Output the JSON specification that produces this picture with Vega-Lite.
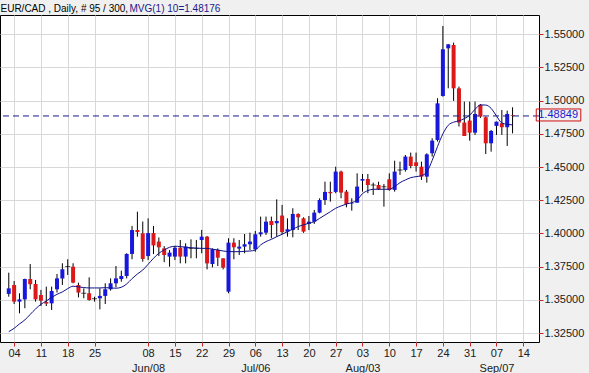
{
  "$schema": "https://vega.github.io/schema/vega-lite/v6.json",
  "width": 539,
  "height": 327,
  "autosize": {"type": "none"},
  "padding": {"left": 0, "top": 15, "right": 50, "bottom": 31},
  "background": "#f0f0f0",
  "config": {
    "view": {"fill": "white", "stroke": "black", "strokeWidth": 1},
    "font": "Liberation Sans"
  },
  "data": {
    "values": [
      {"i": -1, "o": 1.3545, "h": 1.3705, "l": 1.3524, "c": 1.3587, "ma": 1.3261},
      {"i": 0, "o": 1.3612, "h": 1.3642, "l": 1.3469, "c": 1.3487, "ma": 1.3286},
      {"i": 1, "o": 1.3487, "h": 1.3550, "l": 1.3399, "c": 1.3504, "ma": 1.3319},
      {"i": 2, "o": 1.3504, "h": 1.3660, "l": 1.3437, "c": 1.3657, "ma": 1.3349},
      {"i": 3, "o": 1.3657, "h": 1.3770, "l": 1.3580, "c": 1.3617, "ma": 1.3391},
      {"i": 4, "o": 1.3620, "h": 1.3650, "l": 1.3487, "c": 1.3504, "ma": 1.3432},
      {"i": 5, "o": 1.3537, "h": 1.3575, "l": 1.3454, "c": 1.3494, "ma": 1.3467},
      {"i": 6, "o": 1.3484, "h": 1.3600, "l": 1.3454, "c": 1.3472, "ma": 1.3492},
      {"i": 7, "o": 1.3474, "h": 1.3600, "l": 1.3424, "c": 1.3567, "ma": 1.3519},
      {"i": 8, "o": 1.3580, "h": 1.3695, "l": 1.3555, "c": 1.3662, "ma": 1.3542},
      {"i": 9, "o": 1.3662, "h": 1.3776, "l": 1.3612, "c": 1.3730, "ma": 1.3560},
      {"i": 10, "o": 1.3751, "h": 1.3806, "l": 1.3688, "c": 1.3751, "ma": 1.3585},
      {"i": 11, "o": 1.3750, "h": 1.3776, "l": 1.3625, "c": 1.3630, "ma": 1.3603},
      {"i": 12, "o": 1.3612, "h": 1.3630, "l": 1.3519, "c": 1.3555, "ma": 1.3598},
      {"i": 13, "o": 1.3550, "h": 1.3587, "l": 1.3512, "c": 1.3550, "ma": 1.3593},
      {"i": 14, "o": 1.3550, "h": 1.3670, "l": 1.3494, "c": 1.3499, "ma": 1.3590},
      {"i": 15, "o": 1.3509, "h": 1.3524, "l": 1.3487, "c": 1.3509, "ma": 1.3590},
      {"i": 16, "o": 1.3512, "h": 1.3587, "l": 1.3429, "c": 1.3530, "ma": 1.3590},
      {"i": 17, "o": 1.3530, "h": 1.3625, "l": 1.3469, "c": 1.3580, "ma": 1.3592},
      {"i": 18, "o": 1.3580, "h": 1.3662, "l": 1.3570, "c": 1.3625, "ma": 1.3590},
      {"i": 19, "o": 1.3625, "h": 1.3755, "l": 1.3595, "c": 1.3662, "ma": 1.3588},
      {"i": 20, "o": 1.3657, "h": 1.3720, "l": 1.3637, "c": 1.3680, "ma": 1.3595},
      {"i": 21, "o": 1.3680, "h": 1.3851, "l": 1.3662, "c": 1.3846, "ma": 1.3620},
      {"i": 22, "o": 1.3846, "h": 1.4057, "l": 1.3806, "c": 1.4026, "ma": 1.3660},
      {"i": 23, "o": 1.4026, "h": 1.4164, "l": 1.3976, "c": 1.4011, "ma": 1.3695},
      {"i": 24, "o": 1.4001, "h": 1.4090, "l": 1.3788, "c": 1.3808, "ma": 1.3725},
      {"i": 25, "o": 1.3830, "h": 1.4114, "l": 1.3800, "c": 1.4003, "ma": 1.3768},
      {"i": 26, "o": 1.4003, "h": 1.4057, "l": 1.3845, "c": 1.3910, "ma": 1.3813},
      {"i": 27, "o": 1.3939, "h": 1.3970, "l": 1.3830, "c": 1.3896, "ma": 1.3851},
      {"i": 28, "o": 1.3888, "h": 1.3905, "l": 1.3784, "c": 1.3838, "ma": 1.3876},
      {"i": 29, "o": 1.3826, "h": 1.3876, "l": 1.3750, "c": 1.3856, "ma": 1.3896},
      {"i": 30, "o": 1.3826, "h": 1.3906, "l": 1.3800, "c": 1.3893, "ma": 1.3904},
      {"i": 31, "o": 1.3893, "h": 1.3951, "l": 1.3775, "c": 1.3826, "ma": 1.3901},
      {"i": 32, "o": 1.3826, "h": 1.3926, "l": 1.3775, "c": 1.3901, "ma": 1.3897},
      {"i": 33, "o": 1.3888, "h": 1.3956, "l": 1.3813, "c": 1.3888, "ma": 1.3893},
      {"i": 34, "o": 1.3888, "h": 1.3951, "l": 1.3813, "c": 1.3888, "ma": 1.3890},
      {"i": 35, "o": 1.3951, "h": 1.4027, "l": 1.3851, "c": 1.3976, "ma": 1.3888},
      {"i": 36, "o": 1.3976, "h": 1.3981, "l": 1.3730, "c": 1.3775, "ma": 1.3888},
      {"i": 37, "o": 1.3770, "h": 1.3888, "l": 1.3745, "c": 1.3881, "ma": 1.3882},
      {"i": 38, "o": 1.3876, "h": 1.3888, "l": 1.3755, "c": 1.3818, "ma": 1.3876},
      {"i": 39, "o": 1.3813, "h": 1.3813, "l": 1.3730, "c": 1.3743, "ma": 1.3868},
      {"i": 40, "o": 1.3562, "h": 1.3964, "l": 1.3550, "c": 1.3931, "ma": 1.3864},
      {"i": 41, "o": 1.3931, "h": 1.3964, "l": 1.3806, "c": 1.3896, "ma": 1.3863},
      {"i": 42, "o": 1.3886, "h": 1.3951, "l": 1.3838, "c": 1.3901, "ma": 1.3863},
      {"i": 43, "o": 1.3901, "h": 1.3996, "l": 1.3851, "c": 1.3919, "ma": 1.3866},
      {"i": 44, "o": 1.3919, "h": 1.4006, "l": 1.3876, "c": 1.3939, "ma": 1.3868},
      {"i": 45, "o": 1.3881, "h": 1.4019, "l": 1.3863, "c": 1.3994, "ma": 1.3876},
      {"i": 46, "o": 1.3994, "h": 1.4127, "l": 1.3976, "c": 1.4009, "ma": 1.3914},
      {"i": 47, "o": 1.4006, "h": 1.4127, "l": 1.3989, "c": 1.4089, "ma": 1.3939},
      {"i": 48, "o": 1.4094, "h": 1.4127, "l": 1.3964, "c": 1.4064, "ma": 1.3956},
      {"i": 49, "o": 1.4077, "h": 1.4257, "l": 1.3976, "c": 1.4094, "ma": 1.3976},
      {"i": 50, "o": 1.4135, "h": 1.4215, "l": 1.3995, "c": 1.4010, "ma": 1.3994},
      {"i": 51, "o": 1.4014, "h": 1.4114, "l": 1.3976, "c": 1.4032, "ma": 1.4014},
      {"i": 52, "o": 1.4026, "h": 1.4190, "l": 1.3971, "c": 1.4147, "ma": 1.4033},
      {"i": 53, "o": 1.4147, "h": 1.4152, "l": 1.4026, "c": 1.4122, "ma": 1.4052},
      {"i": 54, "o": 1.4114, "h": 1.4122, "l": 1.4005, "c": 1.4014, "ma": 1.4065},
      {"i": 55, "o": 1.4072, "h": 1.4132, "l": 1.4026, "c": 1.4089, "ma": 1.4077},
      {"i": 56, "o": 1.4089, "h": 1.4177, "l": 1.4072, "c": 1.4157, "ma": 1.4089},
      {"i": 57, "o": 1.4157, "h": 1.4265, "l": 1.4152, "c": 1.4252, "ma": 1.4114},
      {"i": 58, "o": 1.4252, "h": 1.4390, "l": 1.4215, "c": 1.4313, "ma": 1.4139},
      {"i": 59, "o": 1.4313, "h": 1.4390, "l": 1.4240, "c": 1.4303, "ma": 1.4164},
      {"i": 60, "o": 1.4313, "h": 1.4503, "l": 1.4303, "c": 1.4466, "ma": 1.4190},
      {"i": 61, "o": 1.4466, "h": 1.4473, "l": 1.4265, "c": 1.4308, "ma": 1.4207},
      {"i": 62, "o": 1.4315, "h": 1.4328, "l": 1.4197, "c": 1.4222, "ma": 1.4222},
      {"i": 63, "o": 1.4225, "h": 1.4265, "l": 1.4172, "c": 1.4228, "ma": 1.4232},
      {"i": 64, "o": 1.4232, "h": 1.4453, "l": 1.4232, "c": 1.4353, "ma": 1.4252},
      {"i": 65, "o": 1.4398, "h": 1.4448, "l": 1.4315, "c": 1.4410, "ma": 1.4300},
      {"i": 66, "o": 1.4410, "h": 1.4448, "l": 1.4303, "c": 1.4365, "ma": 1.4323},
      {"i": 67, "o": 1.4365, "h": 1.4383, "l": 1.4290, "c": 1.4365, "ma": 1.4333},
      {"i": 68, "o": 1.4365, "h": 1.4390, "l": 1.4328, "c": 1.4333, "ma": 1.4333},
      {"i": 69, "o": 1.4352, "h": 1.4373, "l": 1.4202, "c": 1.4352, "ma": 1.4333},
      {"i": 70, "o": 1.4408, "h": 1.4453, "l": 1.4322, "c": 1.4328, "ma": 1.4333},
      {"i": 71, "o": 1.4328, "h": 1.4548, "l": 1.4315, "c": 1.4466, "ma": 1.4353},
      {"i": 72, "o": 1.4478, "h": 1.4541, "l": 1.4441, "c": 1.4478, "ma": 1.4383},
      {"i": 73, "o": 1.4478, "h": 1.4591, "l": 1.4466, "c": 1.4579, "ma": 1.4403},
      {"i": 74, "o": 1.4579, "h": 1.4609, "l": 1.4491, "c": 1.4508, "ma": 1.4420},
      {"i": 75, "o": 1.4536, "h": 1.4609, "l": 1.4466, "c": 1.4508, "ma": 1.4428},
      {"i": 76, "o": 1.4503, "h": 1.4541, "l": 1.4403, "c": 1.4428, "ma": 1.4435},
      {"i": 77, "o": 1.4428, "h": 1.4604, "l": 1.4383, "c": 1.4596, "ma": 1.4463},
      {"i": 78, "o": 1.4604, "h": 1.4717, "l": 1.4579, "c": 1.4699, "ma": 1.4550},
      {"i": 79, "o": 1.4704, "h": 1.5018, "l": 1.4692, "c": 1.4980, "ma": 1.4655},
      {"i": 80, "o": 1.5035, "h": 1.5562, "l": 1.5030, "c": 1.5387, "ma": 1.4750},
      {"i": 81, "o": 1.5394, "h": 1.5427, "l": 1.5093, "c": 1.5424, "ma": 1.4815},
      {"i": 82, "o": 1.5419, "h": 1.5437, "l": 1.4998, "c": 1.5093, "ma": 1.4838},
      {"i": 83, "o": 1.5093, "h": 1.5106, "l": 1.4805, "c": 1.4835, "ma": 1.4848},
      {"i": 84, "o": 1.4835, "h": 1.4993, "l": 1.4734, "c": 1.4734, "ma": 1.4865},
      {"i": 85, "o": 1.4850, "h": 1.4993, "l": 1.4699, "c": 1.4759, "ma": 1.4890},
      {"i": 86, "o": 1.4759, "h": 1.4993, "l": 1.4742, "c": 1.4900, "ma": 1.4935},
      {"i": 87, "o": 1.4968, "h": 1.4975, "l": 1.4870, "c": 1.4880, "ma": 1.4968},
      {"i": 88, "o": 1.4875, "h": 1.4880, "l": 1.4598, "c": 1.4679, "ma": 1.4967},
      {"i": 89, "o": 1.4679, "h": 1.4779, "l": 1.4616, "c": 1.4772, "ma": 1.4942},
      {"i": 90, "o": 1.4810, "h": 1.4842, "l": 1.4742, "c": 1.4842, "ma": 1.4885},
      {"i": 91, "o": 1.4830, "h": 1.4930, "l": 1.4742, "c": 1.4800, "ma": 1.4832},
      {"i": 92, "o": 1.4800, "h": 1.4925, "l": 1.4659, "c": 1.4900, "ma": 1.4822},
      {"i": 93, "o": 1.4890, "h": 1.4950, "l": 1.4754, "c": 1.48849, "ma": 1.48176}
    ]
  },
  "layer": [
    {
      "mark": {"type": "rule", "color": "#000000", "strokeWidth": 1},
      "encoding": {
        "x": {
          "field": "i",
          "type": "quantitative",
          "scale": {"domain": [-1.703, 97], "nice": false, "zero": false},
          "axis": {
            "values": [0, 5, 10, 15, 25, 30, 35, 40, 45, 50, 55, 60, 65, 70, 75, 80, 85, 90, 95],
            "tickCount": 100,
            "labelExpr": "['04','11','18','25','01',['08','Jun/08'],'15','22','29',['06','Jul/06'],'13','20','27',['03','Aug/03'],'10','17','24','31',['07','Sep/07'],'14'][round(datum.value/5)]",
            "domain": false,
            "grid": true,
            "gridColor": "#d8d8d8",
            "gridWidth": 1,
            "ticks": true,
            "tickColor": "#cc2222",
            "tickSize": 4,
            "labelPadding": 1,
            "labelFontSize": 11,
            "labelColor": "#202020",
            "labelFont": "Liberation Sans",
            "labelLineHeight": 15,
            "labelBaseline": "top",
            "labelFlush": false,
            "labelOverlap": false,
            "title": "MVG(1) 10=1.48176",
            "titleX": 129,
            "titleY": -331,
            "titleAlign": "left",
            "titleAnchor": "start",
            "titleBaseline": "alphabetic",
            "titleColor": "#1a1a8c",
            "titleFontSize": 10,
            "titleFontWeight": "normal",
            "titleFont": "Liberation Sans"
          }
        },
        "y": {
          "field": "l",
          "type": "quantitative",
          "scale": {"domain": [1.3183, 1.5645], "nice": false, "zero": false},
          "axis": {
            "orient": "right",
            "values": [1.325, 1.35, 1.375, 1.4, 1.425, 1.45, 1.475, 1.5, 1.525, 1.55],
            "tickCount": 100,
            "format": ".5f",
            "domain": false,
            "grid": true,
            "gridColor": "#d8d8d8",
            "gridWidth": 1,
            "tickColor": "#cc2222",
            "tickSize": 4,
            "labelPadding": 1,
            "labelFontSize": 11,
            "labelColor": "#202020",
            "labelFont": "Liberation Sans",
            "labelOverlap": false,
            "labelFlush": false,
            "title": "EUR/CAD , Daily, # 95 / 300,",
            "titleX": -539,
            "titleY": -4,
            "titleAngle": 0,
            "titleAlign": "left",
            "titleAnchor": "start",
            "titleBaseline": "alphabetic",
            "titleColor": "#000000",
            "titleFontSize": 10,
            "titleFontWeight": "normal",
            "titleFont": "Liberation Sans"
          }
        },
        "y2": {"field": "h"}
      }
    },
    {
      "mark": {"type": "bar", "size": 4},
      "encoding": {
        "x": {"field": "i", "type": "quantitative"},
        "y": {"field": "o", "type": "quantitative"},
        "y2": {"field": "c"},
        "color": {
          "condition": {"test": "datum.c > datum.o", "value": "#1818dc"},
          "value": "#dc1818"
        }
      }
    },
    {
      "transform": [{"filter": "datum.o == datum.c"}],
      "mark": {"type": "tick", "orient": "horizontal", "size": 5, "thickness": 1, "color": "#000000"},
      "encoding": {
        "x": {"field": "i", "type": "quantitative"},
        "y": {"field": "o", "type": "quantitative"}
      }
    },
    {
      "mark": {"type": "line", "color": "#10108a", "strokeWidth": 1, "interpolate": "monotone"},
      "encoding": {
        "x": {"field": "i", "type": "quantitative"},
        "y": {"field": "ma", "type": "quantitative"}
      }
    },
    {
      "data": {"values": [{}]},
      "mark": {"type": "rule", "color": "#1a1a8c", "strokeWidth": 1, "strokeDash": [6, 4]},
      "encoding": {
        "y": {"datum": 1.48849, "type": "quantitative"}
      }
    },
    {
      "data": {"values": [{}]},
      "mark": {"type": "rect", "fill": null, "fillOpacity": 0, "stroke": "#d01010", "strokeWidth": 1, "clip": false},
      "encoding": {
        "x": {"datum": 97.42, "type": "quantitative"},
        "x2": {"datum": 105.73},
        "y": {"datum": 1.49375, "type": "quantitative"},
        "y2": {"datum": 1.48471}
      }
    },
    {
      "data": {"values": [{}]},
      "mark": {"type": "text", "align": "left", "baseline": "middle", "dx": 2, "fontSize": 11, "font": "Liberation Sans", "color": "#1a1acc", "clip": false},
      "encoding": {
        "x": {"datum": 97.42, "type": "quantitative"},
        "y": {"datum": 1.4892, "type": "quantitative"},
        "text": {"value": "1.48849"}
      }
    }
  ]
}
